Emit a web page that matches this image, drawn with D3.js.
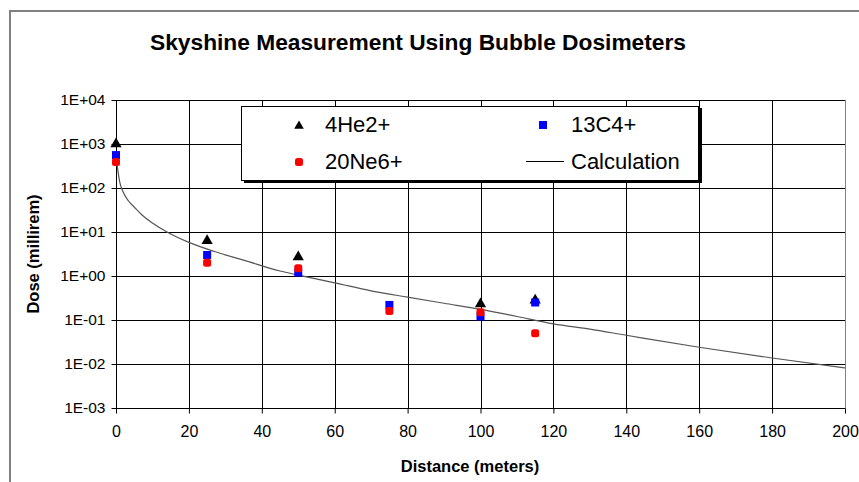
<!DOCTYPE html>
<html>
<head>
<meta charset="utf-8">
<script src="https://cdn.jsdelivr.net/npm/d3@7"></script>
<style>
  body { margin: 0; background: #fff; }
  svg { font-family: "Liberation Sans", Arial, sans-serif; }
</style>
</head>
<body>
<div id="chart"></div>
<script>
// data
var heX = [0, 25, 50, 100, 115];
var heY = [1000, 6.3, 2.7, 0.23, 0.28];
var cX = [0, 25, 50, 75, 100, 115];
var cY = [560, 3.0, 1.2, 0.22, 0.12, 0.25];
var neX = [0, 25, 50, 75, 100, 115];
var neY = [390, 2.0, 1.5, 0.16, 0.15, 0.05];
var calcX = [0.3, 1, 2, 3.5, 5, 7, 10, 14, 20, 27, 35, 45, 50, 60, 70, 80, 90, 100, 110, 120, 130, 140, 160, 180, 200];
var calcY = [330, 140, 80, 50, 37, 25, 16, 10, 5.8, 3.6, 2.3, 1.3, 1.05, 0.70, 0.46, 0.33, 0.24, 0.175, 0.12, 0.082, 0.062, 0.045, 0.024, 0.0137, 0.0081];
var xTicks = [0, 20, 40, 60, 80, 100, 120, 140, 160, 180, 200];
var yTicks = [1e-3, 1e-2, 1e-1, 1, 10, 100, 1000, 10000];
var yTickLabels = ["1E-03", "1E-02", "1E-01", "1E+00", "1E+01", "1E+02", "1E+03", "1E+04"];

var W = 859, H = 482;
var pLeft = 116, pRight = 845, pTop = 100, pBottom = 408;

var svg = d3.select("#chart").append("svg")
    .attr("width", W)
    .attr("height", H);

// outer chart frame
svg.append("rect")
    .attr("x", 10).attr("y", 11)
    .attr("width", 860).attr("height", 490)
    .attr("fill", "#fff")
    .attr("stroke", "#808080")
    .attr("stroke-width", 2);

var x = d3.scaleLinear().domain([0, 200]).range([pLeft, pRight]);
var y = d3.scaleLog().domain([1e-3, 1e4]).range([pBottom, pTop]);

// plot area border
svg.append("rect")
    .attr("x", pLeft + 0.5).attr("y", pTop + 0.5)
    .attr("width", pRight - pLeft).attr("height", pBottom - pTop)
    .attr("fill", "#fff")
    .attr("stroke", "#808080")
    .attr("stroke-width", 1);

// gridlines
svg.append("g").selectAll("line")
    .data(yTicks)
  .enter().append("line")
    .attr("x1", pLeft).attr("x2", pRight)
    .attr("y1", function(d) { return Math.round(y(d)) + 0.5; })
    .attr("y2", function(d) { return Math.round(y(d)) + 0.5; })
    .attr("stroke", "#000");

svg.append("g").selectAll("line")
    .data(xTicks.slice(0, -1))
  .enter().append("line")
    .attr("y1", pTop).attr("y2", pBottom)
    .attr("x1", function(d) { return Math.round(x(d)) + 0.5; })
    .attr("x2", function(d) { return Math.round(x(d)) + 0.5; })
    .attr("stroke", "#000");

// axes
var xAxis = d3.axisBottom(x).tickValues(xTicks).tickSize(5).tickPadding(12)
    .tickFormat(function(d) { return d; });
var yAxis = d3.axisLeft(y).tickValues(yTicks).tickSize(5).tickPadding(6)
    .tickFormat(function(d, i) { return yTickLabels[i]; });

var gx = svg.append("g")
    .attr("transform", "translate(0," + (Math.round(pBottom) + 0.5) + ")")
    .call(xAxis);
var gy = svg.append("g")
    .attr("transform", "translate(" + (pLeft + 0.5) + ",0)")
    .call(yAxis);

[gx, gy].forEach(function(g) {
  g.select(".domain").attr("stroke", "#000");
  g.selectAll(".tick line").attr("stroke", "#000");
  g.selectAll(".tick text").attr("fill", "#000");
});
gx.selectAll(".tick text").style("font-size", "16px");
gy.selectAll(".tick text").style("font-size", "15.5px");
gx.select(".domain").attr("d", "M" + pLeft + ",0H" + pRight);
gy.select(".domain").attr("d", "M0," + pTop + "V" + pBottom);

// calculation curve
var line = d3.line()
    .curve(d3.curveMonotoneX)
    .x(function(d) { return x(d[0]); })
    .y(function(d) { return y(d[1]); });

svg.append("path")
    .datum(d3.zip(calcX, calcY))
    .attr("d", line)
    .attr("fill", "none")
    .attr("stroke", "#555")
    .attr("stroke-width", 1.2);

// markers
var tri = d3.symbol().type(d3.symbolTriangle).size(55);

svg.append("g").selectAll("path")
    .data(d3.zip(heX, heY))
  .enter().append("path")
    .attr("d", tri)
    .attr("transform", function(d) { return "translate(" + x(d[0]) + "," + y(d[1]) + ")"; })
    .attr("fill", "#000");

svg.append("g").selectAll("rect")
    .data(d3.zip(cX, cY))
  .enter().append("rect")
    .attr("x", function(d) { return x(d[0]) - 4; })
    .attr("y", function(d) { return y(d[1]) - 4; })
    .attr("width", 8).attr("height", 8)
    .attr("fill", "#0000ff");

svg.append("g").selectAll("rect")
    .data(d3.zip(neX, neY))
  .enter().append("rect")
    .attr("x", function(d) { return x(d[0]) - 4; })
    .attr("y", function(d) { return y(d[1]) - 4; })
    .attr("width", 8).attr("height", 8)
    .attr("rx", 2.5)
    .attr("fill", "#ff0000");

// legend
var lg = svg.append("g");
lg.append("rect")
    .attr("x", 244).attr("y", 108)
    .attr("width", 458).attr("height", 75)
    .attr("fill", "#000");
lg.append("rect")
    .attr("x", 241.5).attr("y", 106.5)
    .attr("width", 457).attr("height", 74)
    .attr("fill", "#fff")
    .attr("stroke", "#000");

lg.append("path")
    .attr("d", d3.symbol().type(d3.symbolTriangle).size(40))
    .attr("transform", "translate(299,126)")
    .attr("fill", "#000");
lg.append("rect")
    .attr("x", 539).attr("y", 121).attr("width", 8).attr("height", 8)
    .attr("fill", "#0000ff");
lg.append("rect")
    .attr("x", 295).attr("y", 158).attr("width", 8).attr("height", 8)
    .attr("rx", 2.5)
    .attr("fill", "#ff0000");
lg.append("line")
    .attr("x1", 526).attr("x2", 564)
    .attr("y1", 161.5).attr("y2", 161.5)
    .attr("stroke", "#000");

var legendText = [["4He2+", 325, 132], ["13C4+", 571, 132], ["20Ne6+", 325, 169], ["Calculation", 571, 169]];
lg.selectAll("text")
    .data(legendText)
  .enter().append("text")
    .attr("x", function(d) { return d[1]; })
    .attr("y", function(d) { return d[2]; })
    .style("font-size", "22px")
    .attr("fill", "#000")
    .text(function(d) { return d[0]; });

// title
svg.append("text")
    .attr("x", 150)
    .attr("y", 50)
    .attr("textLength", 536)
    .attr("lengthAdjust", "spacingAndGlyphs")
    .style("font-size", "22px")
    .style("font-weight", "bold")
    .text("Skyshine Measurement Using Bubble Dosimeters");

// axis titles
svg.append("text")
    .attr("x", 470)
    .attr("y", 472)
    .attr("text-anchor", "middle")
    .style("font-size", "16.5px")
    .style("font-weight", "bold")
    .text("Distance (meters)");

svg.append("text")
    .attr("transform", "translate(39," + ((pTop + pBottom) / 2) + ") rotate(-90)")
    .attr("text-anchor", "middle")
    .style("font-size", "16.5px")
    .style("font-weight", "bold")
    .text("Dose (millirem)");
</script>
</body>
</html>
